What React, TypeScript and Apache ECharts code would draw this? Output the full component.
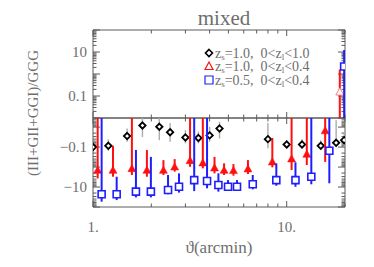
import React, { useEffect, useRef } from 'react';
import * as echarts from 'echarts';

// ---- data ----
const thetaBlack = [1.0, 1.2, 1.5, 1.8, 2.2, 2.5, 3.0, 3.5, 4.0, 4.5, 8.0, 10.0, 12.0, 15.0, 18.0, 19.8];
const valBlack = [-0.1, -0.086, -0.028, -0.0083, -0.0096, -0.018, -0.033, -0.035, -0.026, -0.0117, -0.04, -0.074, -0.074, -0.086, -0.061, -0.045];
const hiBlack = [-0.066, -0.041, -0.0116, -0.003, -0.003, -0.0063, -0.014, -0.017, -0.0097, -0.0054, -0.0063, -0.045, -0.041, -0.045, -0.0045, -0.017];
const loBlack = [-0.17, -0.153, -0.054, -0.031, -0.045, -0.054, -0.065, -0.065, -0.054, -0.037, -0.116, -0.116, -0.116, -0.116, -0.097, -0.097];

const thetaRed = [1.057, 1.268, 1.588, 1.898, 2.31, 2.64, 3.17, 3.69, 4.24, 4.75, 5.31, 6.31, 8.43, 10.6, 12.7, 15.8, 18.8];
const valRed = [-1.53, -1.53, -1.26, -1.53, -1.53, -1.04, -0.5, -0.65, -1.16, -1.53, -1.58, -1.3, -0.58, -0.41, -0.24, -0.016, 0.145];
const hiRed = [0.001, -0.086, 0.001, -0.141, -0.45, -0.4, 0.001, 0.001, -0.31, -0.65, -0.71, -0.45, -0.035, 0.001, 0.001, 0.001, 1.6];
const loRed = [-3.7, -3.05, -2.5, -3.05, -2.5, -1.7, -0.97, -1.16, -2.07, -2.5, -2.7, -2.24, -1.03, -1.41, -0.79, -0.55, -0.001];

const thetaBlue = [1.108, 1.325, 1.666, 1.99, 2.44, 2.78, 3.33, 3.88, 4.44, 4.98, 5.54, 6.68, 8.84, 11.1, 13.4, 16.6, 19.8];
const valBlue = [-23, -23, -17, -17, -14, -9.7, -4.5, -5, -7.9, -9.7, -9.7, -7.3, -4.5, -4.5, -3.05, -0.153, 2.2];
const hiBlue = [0.001, -3.05, -0.14, -0.31, -2.5, -2.07, 0.001, 0.001, -2.07, -4.5, -4.5, -2.5, -0.65, -0.58, 0.001, 0.001, 12.3];
const loBlue = [-54, -45, -33, -33, -23, -19, -16, -11.6, -17, -15, -15, -13, -8.6, -9.7, -7.3, -6.5, -0.001];

const xTickValues = [1, 2, 3, 4, 5, 6, 7, 8, 9, 10, 20];

const FONT = "'Liberation Serif', 'DejaVu Serif', serif";
const TXT = '#6e6e6e';
const FRAME = '#5a5a5a';
const TMIN = 0.01, TMAX = 100, BMIN = 0.0035, BMAX = 100;
const XMIN = 1, XMAX = 20;

type Kind = 'diamond' | 'triangle' | 'square';
interface Group { theta: number[]; val: number[]; lo: number[]; hi: number[]; color: string; bar: string; barW: number; kind: Kind; }

const groups: Group[] = [
  { theta: thetaBlack, val: valBlack, lo: loBlack, hi: hiBlack, color: '#000000', bar: '#ababab', barW: 1.4, kind: 'diamond' },
  { theta: thetaRed, val: valRed, lo: loRed, hi: hiRed, color: '#ff1010', bar: '#ff1010', barW: 2, kind: 'triangle' },
  { theta: thetaBlue, val: valBlue, lo: loBlue, hi: hiBlue, color: '#1e1eff', bar: '#1e1eff', barW: 2, kind: 'square' },
];

function marker(kind: Kind, x: number, y: number, color: string, hollowTri = false): any {
  if (kind === 'diamond') {
    return { type: 'polygon', shape: { points: [[x, y - 3.2], [x + 3.2, y], [x, y + 3.2], [x - 3.2, y]] }, style: { fill: '#fff', stroke: color, lineWidth: 1.8 } };
  }
  if (kind === 'triangle') {
    return { type: 'polygon', shape: { points: [[x, y - 4.6], [x + 4, y + 2.6], [x - 4, y + 2.6]] },
      style: hollowTri ? { fill: '#fff', stroke: '#ff8080', lineWidth: 1 } : { fill: color, stroke: color, lineWidth: 0.5 } };
  }
  return { type: 'rect', shape: { x: x - 3.5, y: y - 3.5, width: 7, height: 7 }, style: { fill: '#fff', stroke: color, lineWidth: 1.6 } };
}

const clamp = (v: number, a: number, b: number) => Math.max(a, Math.min(b, v));

function dataSeries(g: Group, gi: number, top: boolean): any {
  return {
    type: 'custom',
    xAxisIndex: gi, yAxisIndex: gi,
    clip: true,
    silent: true,
    data: g.theta.map((t, i) => [t, 1, i]),
    renderItem: (params: any, api: any) => {
      const i = api.value(2);
      const t = api.value(0);
      const v = g.val[i], lo = g.lo[i], hi = g.hi[i];
      const cs = params.coordSys;
      const children: any[] = [];
      const x = api.coord([t, 1])[0];
      let y1: number | null = null, y2: number | null = null;
      if (top) {
        if (hi > TMIN) {
          y1 = api.coord([t, clamp(hi, TMIN, TMAX)])[1];
          y2 = lo > TMIN ? api.coord([t, clamp(lo, TMIN, TMAX)])[1] : cs.y + cs.height;
        }
      } else {
        if (lo < -BMIN) {
          y1 = hi < -BMIN ? api.coord([t, clamp(-hi, BMIN, BMAX)])[1] : cs.y;
          y2 = api.coord([t, clamp(-lo, BMIN, BMAX)])[1];
        }
      }
      if (y1 !== null && y2 !== null && Math.abs(y1 - y2) > 0.1) {
        children.push({ type: 'line', shape: { x1: x, y1, x2: x, y2 }, style: { stroke: g.bar, lineWidth: g.barW } });
      }
      if ((top && v > 0) || (!top && v < 0)) {
        const p = api.coord([t, Math.abs(v)]);
        children.push(marker(g.kind, p[0], p[1], g.color, top && g.kind === 'triangle'));
      }
      return { type: 'group', children };
    },
  };
}

function decadeTicks(lo: number, hi: number): number[] {
  const out: number[] = [];
  for (let e = -4; e <= 2; e++) {
    for (let m = 1; m <= 9; m++) {
      const v = m * Math.pow(10, e);
      if (v >= lo * 0.999 && v <= hi * 1.001) out.push(v);
    }
  }
  return out;
}

function xTickSeries(gi: number): any {
  return {
    type: 'custom', xAxisIndex: gi, yAxisIndex: gi, silent: true,
    data: xTickValues.map((v) => [v, 1]),
    renderItem: (params: any, api: any) => {
      const v = api.value(0);
      const x = api.coord([v, 1])[0];
      const cs = params.coordSys;
      const major = Math.abs(Math.log10(v) - Math.round(Math.log10(v))) < 1e-6;
      const len = major ? 6 : 3.5;
      return { type: 'group', children: [
        { type: 'line', shape: { x1: x, y1: cs.y + cs.height, x2: x, y2: cs.y + cs.height - len }, style: { stroke: FRAME, lineWidth: 1 } },
        { type: 'line', shape: { x1: x, y1: cs.y, x2: x, y2: cs.y + len }, style: { stroke: FRAME, lineWidth: 1 } },
      ] };
    },
  };
}

function yTickSeries(gi: number, lo: number, hi: number): any {
  return {
    type: 'custom', xAxisIndex: gi, yAxisIndex: gi, silent: true,
    data: decadeTicks(lo, hi).map((v) => [1, v]),
    renderItem: (params: any, api: any) => {
      const v = api.value(1);
      const y = api.coord([1, v])[1];
      const cs = params.coordSys;
      const major = Math.abs(Math.log10(v) - Math.round(Math.log10(v))) < 1e-6;
      const len = major ? 7 : 3.5;
      return { type: 'group', children: [
        { type: 'line', shape: { x1: cs.x, y1: y, x2: cs.x + len, y2: y }, style: { stroke: FRAME, lineWidth: 1 } },
        { type: 'line', shape: { x1: cs.x + cs.width, y1: y, x2: cs.x + cs.width - len, y2: y }, style: { stroke: FRAME, lineWidth: 1 } },
      ] };
    },
  };
}

const near = (v: number, t: number) => Math.abs(Math.log10(v) - Math.log10(t)) < 1e-4;

const legendRows = [
  { kind: 'diamond' as Kind, color: '#000000', text: '{n|z}{s|s}{n|=1.0,  0<z}{s|l}{n|<1.0}' },
  { kind: 'triangle' as Kind, color: '#ff1010', text: '{n|z}{s|s}{n|=1.0,  0<z}{s|l}{n|<0.4}' },
  { kind: 'square' as Kind, color: '#1e1eff', text: '{n|z}{s|s}{n|=0.5,  0<z}{s|l}{n|<0.4}' },
];

function legendGraphic(): any[] {
  const out: any[] = [];
  legendRows.forEach((r, i) => {
    const y = 53 + i * 13.5;
    let m: any;
    if (r.kind === 'diamond') m = { type: 'polygon', shape: { points: [[209, y - 3.5], [212.5, y], [209, y + 3.5], [205.5, y]] }, style: { fill: '#fff', stroke: r.color, lineWidth: 1.6 } };
    else if (r.kind === 'triangle') m = { type: 'polygon', shape: { points: [[209, y - 4.5], [213, y + 3], [205, y + 3]] }, style: { fill: '#fff', stroke: r.color, lineWidth: 1.2 } };
    else m = { type: 'rect', shape: { x: 205, y: y - 4, width: 8, height: 8 }, style: { fill: '#fff', stroke: r.color, lineWidth: 1.2 } };
    out.push(m);
    out.push({
      type: 'text', x: 215, y,
      style: {
        text: r.text, verticalAlign: 'middle', align: 'left',
        rich: {
          n: { fontFamily: FONT, fontSize: 14, fill: TXT, color: TXT, lineHeight: 16 } as any,
          s: { fontFamily: FONT, fontSize: 9, fill: TXT, color: TXT, lineHeight: 16, verticalAlign: 'bottom', padding: [4, 0, 0, 0] } as any,
        },
      },
    });
  });
  return out;
}

export default function App() {
  const ref = useRef<HTMLDivElement>(null);
  useEffect(() => {
    if (!ref.current) return;
    const chart = echarts.init(ref.current, undefined, { renderer: 'svg' });
    const axisCommon = {
      axisTick: { show: false }, splitLine: { show: false }, minorTick: { show: false },
      axisLine: { show: false },
    };
    const option: any = {
      animation: false,
      backgroundColor: '#ffffff',
      title: {
        text: 'mixed', left: 219, top: 2, textAlign: 'center',
        textStyle: { fontFamily: FONT, fontSize: 21, fontWeight: 'normal', color: TXT },
      },
      grid: [
        { left: 93, right: 29, top: 30, height: 88, show: true, borderColor: FRAME, borderWidth: 1, backgroundColor: 'transparent' },
        { left: 93, right: 29, top: 118, height: 89, show: true, borderColor: FRAME, borderWidth: 1, backgroundColor: 'transparent' },
      ],
      xAxis: [
        { type: 'log', logBase: 10, gridIndex: 0, min: XMIN, max: XMAX, axisLabel: { show: false }, ...axisCommon },
        {
          type: 'log', logBase: 10, gridIndex: 1, min: XMIN, max: XMAX, ...axisCommon,
          axisLabel: {
            show: true, margin: 12, fontFamily: FONT, fontSize: 15, color: TXT,
            formatter: (v: number) => (near(v, 1) ? '1.' : near(v, 10) ? '10.' : ''),
          },
          name: 'ϑ(arcmin)', nameLocation: 'middle', nameGap: 32,
          nameTextStyle: { fontFamily: FONT, fontSize: 17, color: TXT },
        },
      ],
      yAxis: [
        {
          type: 'log', logBase: 10, gridIndex: 0, min: TMIN, max: TMAX, ...axisCommon,
          axisLabel: {
            show: true, margin: 6, fontFamily: FONT, fontSize: 15, color: TXT,
            formatter: (v: number) => (near(v, 10) ? '10' : near(v, 0.1) ? '0.1' : ''),
          },
        },
        {
          type: 'log', logBase: 10, gridIndex: 1, min: BMIN, max: BMAX, inverse: true, ...axisCommon,
          axisLabel: {
            show: true, margin: 6, fontFamily: FONT, fontSize: 15, color: TXT,
            formatter: (v: number) => (near(v, 10) ? '−10' : near(v, 0.1) ? '−0.1' : ''),
          },
        },
      ],
      series: [
        xTickSeries(0), xTickSeries(1),
        yTickSeries(0, TMIN, TMAX), yTickSeries(1, BMIN, BMAX),
        ...groups.map((g) => dataSeries(g, 0, true)),
        ...groups.map((g) => dataSeries(g, 1, false)),
      ],
      graphic: [
        {
          type: 'text', x: 33, y: 113, rotation: Math.PI / 2,
          style: { text: '(III+GII+GGI)/GGG', fontFamily: FONT, fontSize: 15, fill: TXT, align: 'center', verticalAlign: 'middle' },
        },
        ...legendGraphic(),
      ],
    };
    chart.setOption(option);
    return () => chart.dispose();
  }, []);
  return <div ref={ref} style={{ position: 'absolute', left: 0, top: 0, width: 374, height: 267 }} />;
}
